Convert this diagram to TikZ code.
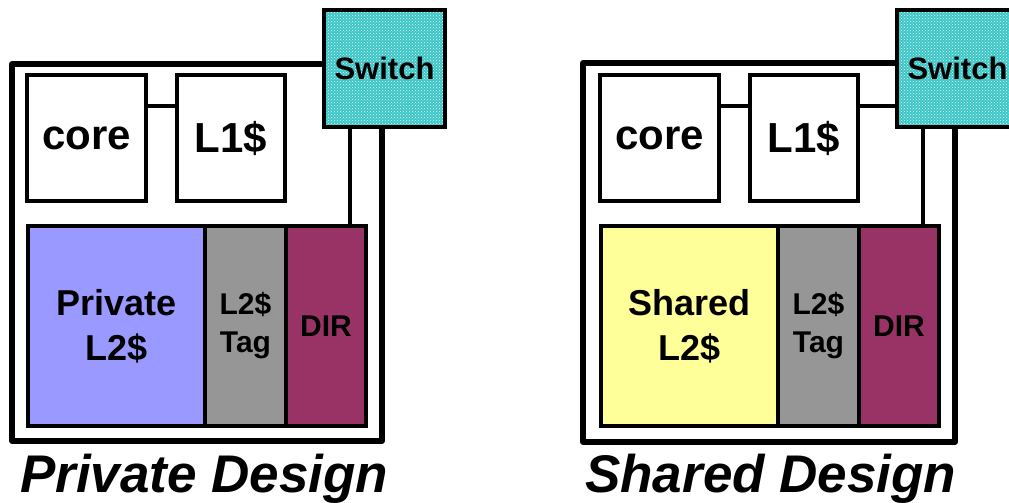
\documentclass[tikz,border=0pt]{standalone}
\usepackage{fontspec}
\setmainfont{Liberation Sans}
\usetikzlibrary{patterns}

\definecolor{privblue}{HTML}{9999FF}
\definecolor{sharedyellow}{HTML}{FFFF99}
\definecolor{taggray}{HTML}{969696}
\definecolor{dirpurple}{HTML}{993366}
\definecolor{swcyan}{HTML}{3CC6C6}

\begin{document}
\begin{tikzpicture}[x=1pt,y=-1pt,
  box/.style={draw, line width=4pt, inner sep=0pt, align=center},
  swbox/.style={box, preaction={fill=swcyan}, pattern=crosshatch dots, pattern color=white!85!swcyan,
                minimum width=121pt, minimum height=117pt,
                font=\bfseries\fontsize{31}{36}\selectfont},
  unitbox/.style={box, fill=white, minimum height=126pt, font=\bfseries\fontsize{42}{50}\selectfont},
  l2part/.style={box, minimum height=200pt},
  frame/.style={line width=5.5pt, line join=round},
  wire/.style={line width=4pt},
  title/.style={anchor=base west, inner sep=0pt, font=\bfseries\itshape\fontsize{53}{60}\selectfont}]
\useasboundingbox (0,0) rectangle (1009,503);
\clip (0,0) rectangle (1009,503);

% ---------------- private design ----------------
\node[swbox] (sw1) at (384.5,68.5) {Switch};
\node[unitbox, minimum width=119pt] (core1) at (86.5,138) {core};
\node[unitbox, minimum width=108pt] (l1a) at (231,138) {L1\$};
\node[l2part, fill=privblue, minimum width=177pt, font=\bfseries\fontsize{36}{45}\selectfont] (priv) at (116.5,326) {Private\\L2\$};
\node[l2part, fill=taggray, minimum width=81pt, font=\bfseries\fontsize{30}{38}\selectfont] (tag1) at (245.5,326) {L2\$\\Tag};
\node[l2part, fill=dirpurple, minimum width=80pt, font=\bfseries\fontsize{30}{38}\selectfont] (dir1) at (326,326) {DIR};

\draw[wire] (core1.east |- 0,106) -- (l1a.west |- 0,106);
\draw[wire] ([xshift=-34.5pt]sw1.south) -- ([xshift=-34.5pt]sw1.south |- dir1.north);
\draw[frame] (sw1.west |- 0,64) -- (12,64) -- (12,441) -- (382,441) -- (sw1.south -| 382,0);

\node[title] (t1) at (20,492) {Private Design};

% ---------------- shared design ----------------
\node[swbox] (sw2) at (957.5,68.5) {Switch};
\node[unitbox, minimum width=119pt] (core2) at (659.5,138) {core};
\node[unitbox, minimum width=108pt] (l1b) at (804,138) {L1\$};
\node[l2part, fill=sharedyellow, minimum width=177pt, font=\bfseries\fontsize{36}{45}\selectfont] (shared) at (689.5,326) {Shared\\L2\$};
\node[l2part, fill=taggray, minimum width=81pt, font=\bfseries\fontsize{30}{38}\selectfont] (tag2) at (818.5,326) {L2\$\\Tag};
\node[l2part, fill=dirpurple, minimum width=80pt, font=\bfseries\fontsize{30}{38}\selectfont] (dir2) at (899,326) {DIR};

\draw[wire] (core2.east |- 0,106) -- (l1b.west |- 0,106);
\draw[wire] (l1b.east |- 0,106) -- (sw2.west |- 0,106);
\draw[wire] ([xshift=-34.5pt]sw2.south) -- ([xshift=-34.5pt]sw2.south |- dir2.north);
\draw[frame] (sw2.west |- 0,63) -- (583,63) -- (583,442) -- (955,442) -- (sw2.south -| 955,0);

\node[title] (t2) at (585,492) {Shared Design};
\end{tikzpicture}
\end{document}
